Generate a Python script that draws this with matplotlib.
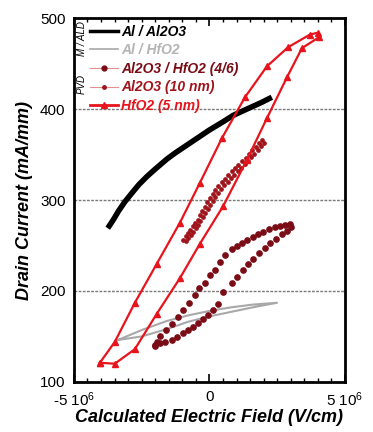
import matplotlib.pyplot as plt
from matplotlib.ticker import MultipleLocator
from matplotlib.lines import Line2D

plt.rcParams['font.family'] = ['Liberation Sans', 'DejaVu Sans']
plt.rcParams['mathtext.default'] = 'regular'

# field in units of 1e6 V/cm, current in mA/mm
# Al / Al2O3 (M/ALD)
al_al2o3_x = [-3.75, -3.55, -3.35, -3.12, -2.85, -2.6, -2.3, -2.0, -1.57, -1.25, -1.0, -0.5,
              0.0, 0.5, 0.87, 1.38, 1.9, 2.3]
al_al2o3_y = [269, 278, 288, 298, 308, 317, 326, 334, 345, 352, 357, 367,
              377, 386, 393, 400, 407, 413]

# Al / HfO2 (M/ALD)
al_hfo2_x = [-3.38, -2.5, -1.57, -0.8, 0.0, 0.8, 1.6, 2.49, 1.6, 0.8, 0.0, -0.8, -1.57, -2.5, -3.38]
al_hfo2_y = [146, 157, 167, 173, 178, 182, 185, 187, 182, 177, 172, 166, 158, 150, 146]

# Al2O3 / HfO2 (4/6) (PVD)
bil_x = [-2.01, -1.94, -1.83, -1.61, -1.38, -1.16, -0.98, -0.76, -0.54, -0.39, -0.17, 0.02,
         0.20, 0.39, 0.57, 0.83, 1.01, 1.20, 1.38, 1.61, 1.79, 1.97, 2.20, 2.42, 2.60, 2.79, 2.97,
         3.01, 2.86, 2.68, 2.45, 2.23, 2.05, 1.83, 1.61, 1.42, 1.24, 1.01, 0.83, 0.50, 0.31,
         0.13, -0.06, -0.24, -0.42, -0.61, -0.79, -0.98, -1.20, -1.38, -1.64, -1.83, -2.01]
bil_y = [140.7, 144, 150.5, 157, 163.7, 171.4, 179, 186.8, 195.6, 203.3, 208.8, 217.6,
         223, 232, 240, 246, 249.5, 252.7, 256, 259.3, 262.6, 264.8, 268, 270, 271.4, 272.5, 273.6,
         270.3, 266, 262.6, 257, 252.7, 247, 241.8, 235, 229.7, 223, 215.4, 208.8, 199, 185.7,
         179, 173.6, 169.2, 164.8, 160.4, 157, 153.8, 149.5, 146, 144, 142.9, 139.6]

# Al2O3 (10 nm) (PVD)
al2o3_x = [-0.98, -0.88, -0.79, -0.70, -0.61, -0.52, -0.44, -0.35, -0.26, -0.17, -0.08, 0.02,
           0.12, 0.22, 0.33, 0.45, 0.57, 0.69, 0.82, 0.94, 1.07, 1.20, 1.33, 1.46, 1.58, 1.70,
           1.82, 1.94,
           2.02, 1.90, 1.78, 1.66, 1.54, 1.42, 1.30, 1.17, 1.04, 0.92, 0.79, 0.67, 0.55, 0.44,
           0.33, 0.22, 0.12, 0.03, -0.06, -0.15, -0.24, -0.33, -0.42, -0.51, -0.60, -0.69,
           -0.78, -0.87]
al2o3_y = [256, 260, 264, 267.5, 271, 275, 278.5, 283, 288, 292.5, 297.5, 302,
           306.5, 311, 315, 319.5, 323.5, 327.5, 331.5, 335, 339, 342.5, 346.5, 350.5, 354.5, 358.5,
           362.5, 366.5,
           363, 359, 355, 351, 347, 343, 339.5, 335.5, 332, 328, 324, 320, 316, 312,
           308, 303.5, 299, 295, 290.5, 286, 281.5, 277, 273, 269, 265, 261.5,
           258, 254.5]

# HfO2 (5 nm) (PVD)
hfo2_x = [-4.04, -3.49, -2.75, -1.94, -1.09, -0.35, 0.46, 1.31, 2.12, 2.90, 3.71, 4.0,
          4.04, 3.41, 2.86, 2.12, 1.38, 0.50, -0.35, -1.09, -1.94, -2.75, -3.49, -4.04]
hfo2_y = [121, 144, 187, 230, 275, 319, 368, 413, 447, 468, 482, 484,
          479, 467, 435, 390, 344, 293, 252, 214, 175, 136, 120, 121]

fig = plt.figure(figsize=(3.73, 4.32), dpi=100)
ax = fig.add_axes([0.198, 0.116, 0.727, 0.842])

for g in [200, 300, 400]:
    ax.axhline(g, color='#7a7a7a', lw=1.0, ls=(0, (2, 1)), zorder=1)

sc = 1e6
ax.plot([v * sc for v in al_al2o3_x], al_al2o3_y, color='black', lw=4.0,
        solid_capstyle='butt', solid_joinstyle='round', zorder=3)
ax.plot([v * sc for v in al_hfo2_x], al_hfo2_y, color='#a8a8a8', lw=1.5, zorder=3)
ax.plot([v * sc for v in bil_x], bil_y, ls='none', marker='o', ms=3.8,
        color='#7a0c16', zorder=4)
ax.plot([v * sc for v in al2o3_x], al2o3_y, ls='none', marker='o', ms=2.4,
        color='#a0141c', zorder=4)
ax.plot([v * sc for v in hfo2_x], hfo2_y, color='#e8141c', lw=1.6, marker='^',
        ms=5, zorder=5)

ax.set_xlim(-5e6, 5e6)
ax.set_ylim(100, 500)
ax.set_xticks([-5e6, 0, 5e6])
ax.set_xticklabels(['-5 10$^6$', '0', '5 10$^6$'])
ax.xaxis.set_minor_locator(MultipleLocator(0.5e6))
ax.set_yticks([100, 200, 300, 400, 500])
ax.tick_params(axis='x', which='both', direction='in', top=True, labelsize=11, pad=6)
ax.tick_params(axis='x', which='major', length=6, width=1.2)
ax.tick_params(axis='x', which='minor', length=3, width=1.0)
ax.tick_params(axis='y', which='both', length=0, labelsize=11, pad=6)
for s in ax.spines.values():
    s.set_linewidth(2.0)

ax.set_xlabel('Calculated Electric Field (V/cm)', fontsize=13, fontweight='bold',
              style='italic', labelpad=0)
ax.set_ylabel('Drain Current (mA/mm)', fontsize=13, fontweight='bold',
              style='italic', labelpad=5)

handles = [
    Line2D([], [], color='black', lw=2.5),
    Line2D([], [], color='#a8a8a8', lw=1.2),
    Line2D([], [], color='#e89090', lw=0.8, marker='o', ms=3.5, mfc='#7a0c16', mec='#7a0c16'),
    Line2D([], [], color='#e89090', lw=0.8, marker='o', ms=2.5, mfc='#a0141c', mec='#a0141c'),
    Line2D([], [], color='#e8141c', lw=2.0, marker='^', ms=5),
]
labels = ['Al / Al2O3', 'Al / HfO2', 'Al2O3 / HfO2 (4/6)', 'Al2O3 (10 nm)', 'HfO2 (5 nm)']
leg = ax.legend(handles, labels, loc='upper left', bbox_to_anchor=(0.03, 1.005),
                frameon=False, handlelength=2.0, handletextpad=0.2, labelspacing=0.33,
                borderaxespad=0.2,
                prop={'size': 10, 'weight': 'bold', 'style': 'italic'},
                labelcolor=['black', '#b4b4b4', '#7a0c16', '#a0141c', '#e8141c'])

ax.text(0.03, 0.945, 'M / ALD', transform=ax.transAxes, rotation=90, fontsize=7,
        style='italic', ha='center', va='center')
ax.text(0.03, 0.819, 'PVD', transform=ax.transAxes, rotation=90, fontsize=7,
        style='italic', ha='center', va='center')

plt.savefig('out.png', dpi=100)
